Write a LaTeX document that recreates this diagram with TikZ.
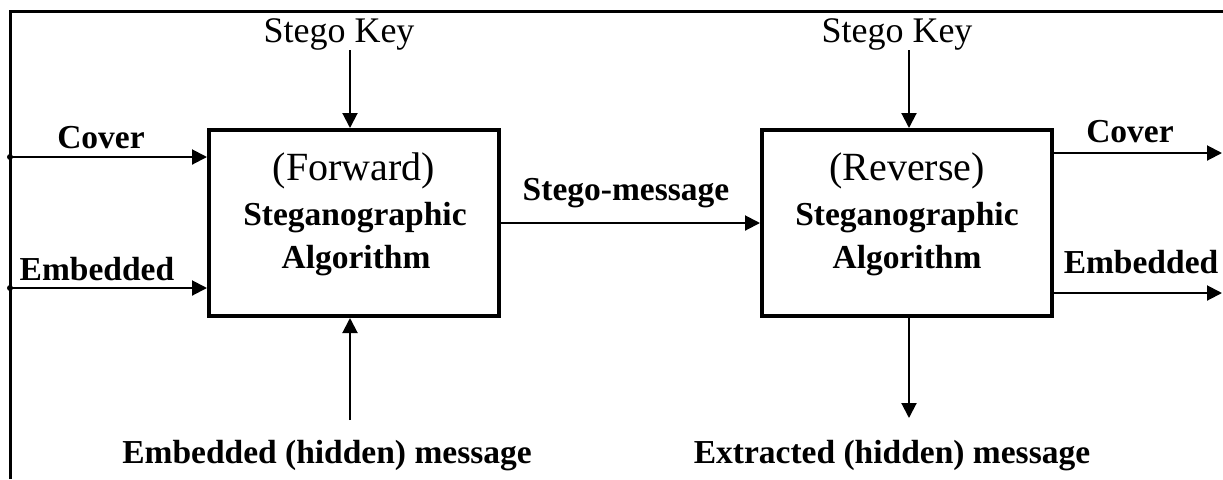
\documentclass[tikz,border=0pt]{standalone}
\usepackage{fontspec}
\setmainfont{Liberation Serif}
\usetikzlibrary{arrows.meta}

\begin{document}
\begin{tikzpicture}[x=0.5pt,y=-0.5pt,
  lbl/.style={anchor=base,inner sep=0pt,font=\fontsize{16.75}{20}\selectfont\bfseries},
  keylbl/.style={anchor=base,inner sep=0pt,font=\fontsize{18}{21}\selectfont},
  dirlbl/.style={anchor=base,inner sep=0pt,font=\fontsize{20}{24}\selectfont},
  algbox/.style={draw,line width=2pt,minimum width=145pt,minimum height=93pt,inner sep=0pt},
  arr/.style={line width=1pt,-{Triangle[length=7.5pt,width=7.5pt]}},
  frame/.style={line width=1.5pt}
]
\useasboundingbox (0,0) rectangle (1223,479);

% outer frame (open at the right and bottom)
\draw[frame] (10,479) -- (10,11) -- (1223,11);

% the two algorithm blocks
\node[algbox] (box1) at (354,223) {};
\node[algbox] (box2) at (907,223) {};

% block captions
\node[dirlbl] (fwd1) at (354,180) {(Forward)};
\node[lbl]    (fwd2) at (355,225) {Steganographic};
\node[lbl]    (fwd3) at (356,268) {Algorithm};
\node[dirlbl] (rev1) at (907,180) {(Reverse)};
\node[lbl]    (rev2) at (907,225) {Steganographic};
\node[lbl]    (rev3) at (907,268) {Algorithm};

% labels
\node[keylbl] (key1) at (339,42) {Stego Key};
\node[keylbl] (key2) at (897,42) {Stego Key};
\node[lbl] (cov1) at (101,148) {Cover};
\node[lbl] (emb1) at (97,280) {Embedded};
\node[lbl] (stm)  at (626,200) {Stego-message};
\node[lbl] (cov2) at (1130,142) {Cover};
\node[lbl] (emb2) at (1141,273) {Embedded};
\node[lbl] (hidin)  at (327,463) {Embedded (hidden) message};
\node[lbl] (hidout) at (892,463) {Extracted (hidden) message};

% free ends of the connectors
\coordinate (keyA)   at (350,50);
\coordinate (keyB)   at (909,50);
\coordinate (covIn)  at (10,157);
\coordinate (embIn)  at (10,288);
\coordinate (hidA)   at (350,420);
\coordinate (covOut) at (1222,153);
\coordinate (embOut) at (1222,293);
\coordinate (hidB)   at (909,418);

% connectors
\draw[arr] (keyA) -- (keyA |- box1.north);
\draw[arr] (keyB) -- (keyB |- box2.north);
\draw[arr] (covIn) -- (covIn -| box1.west);
\draw[arr] (embIn) -- (embIn -| box1.west);
\draw[arr] (hidA) -- (hidA |- box1.south);
\draw[arr] (box1.east) -- (box2.west);
\draw[arr] (covOut -| box2.east) -- (covOut);
\draw[arr] (embOut -| box2.east) -- (embOut);
\draw[arr] (hidB |- box2.south) -- (hidB);
\fill (covIn) circle (1.5pt);
\fill (embIn) circle (1.5pt);
\end{tikzpicture}
\end{document}
